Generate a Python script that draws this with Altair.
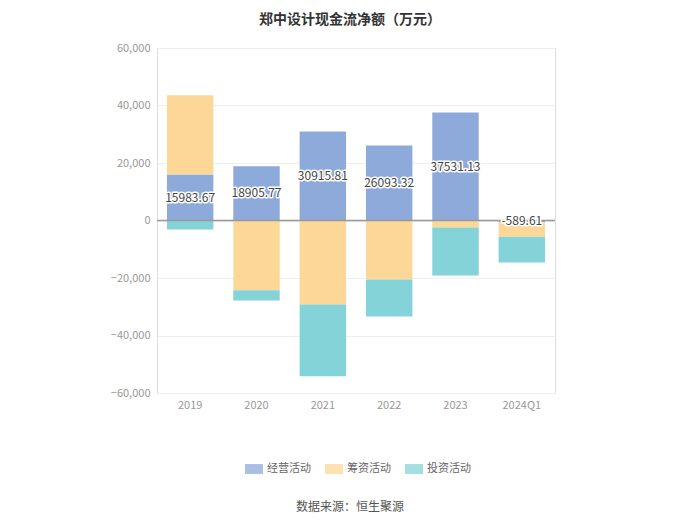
import altair as alt
import pandas as pd

years = ["2019", "2020", "2021", "2022", "2023", "2024Q1"]
series = ["经营活动", "筹资活动", "投资活动"]
operating = [15983.67, 18905.77, 30915.81, 26093.32, 37531.13, -589.61]
financing = [27600, -24300, -29200, -20500, -2400, -5100]
investing = [-3100, -3500, -25000, -12900, -16700, -8900]
colors = ["#8eaadb", "#fdd797", "#84d3d8"]
y_ticks = [-60000, -40000, -20000, 0, 20000, 40000, 60000]

rows = []
for i, y in enumerate(years):
    for k, (s, vals) in enumerate(zip(series, [operating, financing, investing])):
        rows.append({"year": y, "series": s, "value": vals[i], "order": k})
df = pd.DataFrame(rows)
lab = pd.DataFrame({"year": years, "value": operating,
                    "label": [f"{v:.2f}" for v in operating]})

FONT = "Noto Sans CJK SC"

x = alt.X("year:N", sort=years, title=None,
          scale=alt.Scale(paddingInner=0.3, paddingOuter=0.15),
          axis=alt.Axis(labelAngle=0, labelColor="#999999", labelFontSize=11,
                        labelFont=FONT, domain=False, ticks=False, labelPadding=6))

bars = alt.Chart(df).mark_bar().encode(
    x=x,
    y=alt.Y("value:Q", stack="zero", title=None,
            scale=alt.Scale(domain=[-60000, 60000], nice=False),
            axis=alt.Axis(values=y_ticks, format=",d", labelColor="#999999",
                          labelFontSize=11, labelFont=FONT, domain=False,
                          ticks=False, gridColor="#eeeeee", labelPadding=7)),
    color=alt.Color("series:N", sort=series,
                    scale=alt.Scale(domain=series, range=colors),
                    legend=alt.Legend(title=None, orient="none", direction="horizontal",
                                      legendX=88, legendY=412,
                                      symbolType="M-1,-0.55H1V0.55H-1Z",
                                      symbolSize=324, symbolOpacity=0.75,
                                      labelColor="#666666", labelFontSize=11,
                                      labelFont=FONT, columnPadding=14,
                                      symbolStrokeWidth=0)),
    order=alt.Order("order:Q"),
)

zero = alt.Chart(pd.DataFrame({"v": [0]})).mark_rule(color="#999999", strokeWidth=1.5).encode(
    y="v:Q")

base_lab = alt.Chart(lab).transform_calculate(mid="datum.value / 2").encode(
    x=alt.X("year:N", sort=years), y=alt.Y("mid:Q"), text="label:N")
halo = base_lab.mark_text(font=FONT, fontSize=12, color="white", stroke="white",
                          strokeWidth=3, strokeJoin="round")
txt = base_lab.mark_text(font=FONT, fontSize=12, color="#444444")

title = alt.Chart(pd.DataFrame({"t": ["郑中设计现金流净额（万元）"]})).mark_text(
    font=FONT, fontSize=14, fontWeight="bold", color="#333333", baseline="middle").encode(
    x=alt.value(193), y=alt.value(-28), text="t:N")
source = alt.Chart(pd.DataFrame({"t": ["数据来源：恒生聚源"]})).mark_text(
    font=FONT, fontSize=12, color="#555555", baseline="middle").encode(
    x=alt.value(193), y=alt.value(459), text="t:N")

chart = alt.layer(bars, zero, halo, txt, title, source).properties(
    width=398, height=345,
    autosize=alt.AutoSizeParams(type="none"),
    padding={"left": 149, "top": 40, "right": 130, "bottom": 128},
).configure_view(stroke=None).configure(background="white")

chart.save("out.html", embed_options={"renderer": "svg", "actions": False})
